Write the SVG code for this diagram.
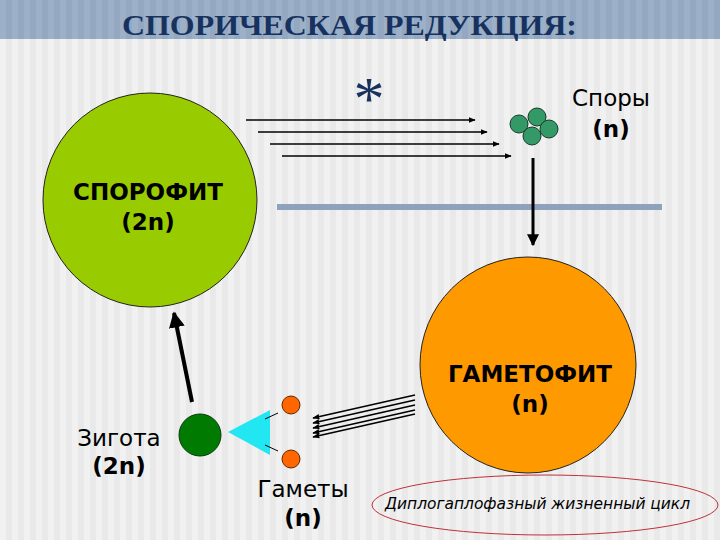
<svg xmlns="http://www.w3.org/2000/svg" width="720" height="540" viewBox="0 0 720 540">
<defs>
<pattern id="stripes" width="12" height="10" patternUnits="userSpaceOnUse">
<rect width="12" height="10" fill="#f1f1f1"/>
<rect x="6" width="6" height="10" fill="#e9e9e9"/>
</pattern>
<pattern id="bandstripes" width="12" height="10" patternUnits="userSpaceOnUse">
<rect width="12" height="10" fill="#9cb0c8"/>
<rect x="6" width="6" height="10" fill="#94a8c1"/>
</pattern>
<marker id="ah" viewBox="0 0 10 10" refX="9" refY="5" markerWidth="7" markerHeight="7" markerUnits="userSpaceOnUse" orient="auto">
<path d="M0,1 L10,5 L0,9 Z" fill="#000"/>
</marker>
<marker id="ahb" viewBox="0 0 10 10" refX="9" refY="5" markerWidth="4" markerHeight="4" orient="auto">
<path d="M0,0 L10,5 L0,10 Z" fill="#000"/>
</marker>
</defs>
<style>
.lbl{font-family:"DejaVu Sans",Verdana,sans-serif;fill:#000;text-anchor:middle;font-size:23px}
.b{font-weight:bold}
.thin{stroke:#000;stroke-width:1.5;fill:none}
</style>
<rect width="720" height="540" fill="url(#stripes)"/>
<rect width="720" height="39" fill="url(#bandstripes)"/>
<text x="122" y="35" font-family="Liberation Serif,serif" font-weight="bold" font-size="29" fill="#17325f" textLength="455" lengthAdjust="spacingAndGlyphs">СПОРИЧЕСКАЯ РЕДУКЦИЯ:</text>

<g id="sporophyte">
<circle cx="150" cy="200" r="107" fill="#99cc00" stroke="#222" stroke-width="1"/>
<text class="lbl b" x="148" y="200">СПОРОФИТ</text>
<text class="lbl b" x="148" y="230">(2n)</text>
</g>

<g id="gametophyte">
<circle cx="528" cy="365" r="108" fill="#ff9900" stroke="#222" stroke-width="1"/>
<text class="lbl b" x="530" y="382">ГАМЕТОФИТ</text>
<text class="lbl b" x="530" y="412">(n)</text>
</g>

<g id="spores">
<circle cx="519" cy="124" r="9" fill="#339966" stroke="#1a3a2a" stroke-width="1"/>
<circle cx="537" cy="117" r="9" fill="#339966" stroke="#1a3a2a" stroke-width="1"/>
<circle cx="549" cy="129" r="9" fill="#339966" stroke="#1a3a2a" stroke-width="1"/>
<circle cx="532" cy="136" r="9" fill="#339966" stroke="#1a3a2a" stroke-width="1"/>
<text class="lbl" x="611" y="106">Споры</text>
<text class="lbl b" x="611" y="137">(n)</text>
</g>

<g id="asterisk">
<text x="369" y="119" font-family="Liberation Serif,serif" font-size="62" fill="#17325f" text-anchor="middle">*</text>
</g>

<g id="zygote">
<circle cx="200" cy="435" r="21" fill="#007a00" stroke="#0a3a0a" stroke-width="1"/>
<text class="lbl" x="119" y="446">Зигота</text>
<text class="lbl b" x="119" y="474">(2n)</text>
</g>

<g id="gametes">
<circle cx="291" cy="405" r="9" fill="#ff6600" stroke="#5a2a00" stroke-width="1"/>
<circle cx="291" cy="459" r="9" fill="#ff6600" stroke="#5a2a00" stroke-width="1"/>
<text class="lbl" x="303" y="497">Гаметы</text>
<text class="lbl b" x="303" y="526">(n)</text>
</g>

<g id="fusion">
<polygon points="228,432 270,410 270,455" fill="#22e6f2"/>
<line x1="265" y1="419" x2="278" y2="413" stroke="#000" stroke-width="1"/>
<line x1="265" y1="445" x2="278" y2="451" stroke="#000" stroke-width="1"/>
</g>

<g id="divider">
<line x1="277" y1="207" x2="662" y2="207" stroke="#8ea2bd" stroke-width="6"/>
</g>

<g id="cycle">
<ellipse cx="545" cy="505" rx="173" ry="30" fill="none" stroke="#c0303a" stroke-width="1"/>
<text x="385" y="509" font-family="DejaVu Sans,Verdana,sans-serif" font-style="italic" font-size="15" fill="#000" textLength="305" lengthAdjust="spacingAndGlyphs">Диплогаплофазный жизненный цикл</text>
</g>

<g id="connectors">
<line class="thin" x1="246" y1="120" x2="475" y2="120" marker-end="url(#ah)"/>
<line class="thin" x1="258" y1="132" x2="487" y2="132" marker-end="url(#ah)"/>
<line class="thin" x1="270" y1="144" x2="499" y2="144" marker-end="url(#ah)"/>
<line class="thin" x1="282" y1="156" x2="511" y2="156" marker-end="url(#ah)"/>
<line x1="533" y1="158" x2="533" y2="245" stroke="#000" stroke-width="3" marker-end="url(#ahb)"/>
<line x1="192" y1="402" x2="174" y2="313" stroke="#000" stroke-width="4" marker-end="url(#ahb)"/>
<line class="thin" x1="415" y1="395" x2="313" y2="418" marker-end="url(#ah)"/>
<line class="thin" x1="415" y1="400" x2="313" y2="423" marker-end="url(#ah)"/>
<line class="thin" x1="415" y1="405" x2="313" y2="428" marker-end="url(#ah)"/>
<line class="thin" x1="415" y1="410" x2="313" y2="433" marker-end="url(#ah)"/>
<line class="thin" x1="415" y1="414" x2="313" y2="437" marker-end="url(#ah)"/>
</g>
</svg>
